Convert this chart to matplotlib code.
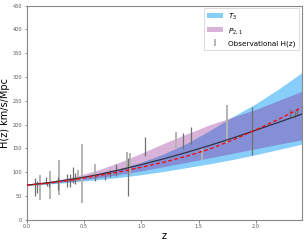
import matplotlib
matplotlib.use("Agg")
import matplotlib.pyplot as plt
import numpy as np

# redshift grid for the model curves and bands
z_grid = [0.0, 0.2, 0.4, 0.6, 0.8, 1.0, 1.2, 1.4, 1.6, 1.8, 2.0, 2.2, 2.4]

# T3 band (light blue)
t3_hi = [74, 80, 87, 96, 107, 121, 139, 161, 188, 217, 244, 275, 309]
t3_lo = [72, 75.5, 79.5, 84, 89, 95, 102, 110, 118, 127, 137, 148, 159]
# P_{2,1} band (purple)
p21_hi = [74, 81, 90, 103, 120, 140, 161, 181, 200, 216, 232, 251, 270]
p21_lo = [72.5, 76.5, 81.5, 87.5, 95, 103, 112, 121, 130.5, 140, 149.5, 159, 168]

# best fit curves
h_black = [73, 78.5, 85.5, 94, 104.5, 116, 128.5, 142, 156.5, 172, 188.5, 205, 222]
h_red = [73, 77.5, 84, 92, 100.5, 110.5, 121.5, 134, 149, 168, 189, 211.5, 236]

# observational H(z), dark bars
z_dark = [0.07, 0.09, 0.17, 0.179, 0.199, 0.27, 0.352, 0.38, 0.40, 0.4247, 0.60,
          0.68, 0.73, 0.781, 0.88, 1.037, 1.363, 1.43, 1.965, 2.30, 2.34, 2.36]
h_dark = [69, 69, 83, 75, 75, 77, 83, 83, 95, 87.1, 87.9,
          92, 97.3, 105, 90, 154, 166, 177, 186.5, 224, 222, 226]
e_dark = [19.6, 12, 8, 4, 5, 14, 14, 13.5, 17, 11.2, 6.1,
          8, 7, 12, 40, 20, 17, 18, 50.4, 8, 7, 8]

# observational H(z), light bars
z_light = [0.12, 0.20, 0.28, 0.4497, 0.48, 0.593, 0.875, 0.90, 1.30, 1.53, 1.75]
h_light = [68.6, 72.9, 88.8, 92.8, 97, 104, 125, 117, 168, 140, 202]
e_light = [26.2, 29.6, 36.6, 12.9, 62, 13, 17, 23, 17, 14, 40]

fig = plt.figure(figsize=(3.05, 2.43), dpi=100)
ax = fig.add_axes([0.0875, 0.095, 0.9015, 0.882])

ax.fill_between(z_grid, t3_lo, t3_hi, color="lightskyblue", lw=0, label="$T_3$", zorder=1)
ax.fill_between(z_grid, p21_lo, p21_hi, color="purple", alpha=0.3, lw=0, label="$P_{2,1}$", zorder=2)

ax.plot(z_grid, h_black, color="#333344", lw=0.9, zorder=4)
ax.plot(z_grid, h_red, color="red", lw=0.9, ls="--", dashes=(3, 2), zorder=5)

ax.errorbar(z_light, h_light, yerr=e_light, fmt="none", ecolor="#b4b4b4", elinewidth=1.4,
            label="Observational H(z)", zorder=3)
ax.errorbar(z_dark, h_dark, yerr=e_dark, fmt="none", ecolor="#707070", elinewidth=0.9, zorder=3)

ax.set_xlim(0, 2.4)
ax.set_ylim(0, 450)
ax.set_xticks([0.0, 0.5, 1.0, 1.5, 2.0])
ax.set_yticks(np.arange(0, 451, 50))
ax.tick_params(labelsize=3.6, length=1.8, width=0.5, colors="#555555", pad=1.5)
for s in ax.spines.values():
    s.set_color("#888888")
    s.set_linewidth(0.8)

ax.set_xlabel("z", fontsize=7, labelpad=1)
ax.set_ylabel("H(z) km/s/Mpc", fontsize=7, labelpad=2)

leg = ax.legend(loc="upper right", fontsize=5.2, borderaxespad=0.4, handlelength=2.2,
                labelspacing=0.6, framealpha=1, fancybox=False)
leg.get_frame().set_linewidth(0.5)
leg.get_frame().set_edgecolor("#cccccc")

fig.savefig("out.png", dpi=100)
